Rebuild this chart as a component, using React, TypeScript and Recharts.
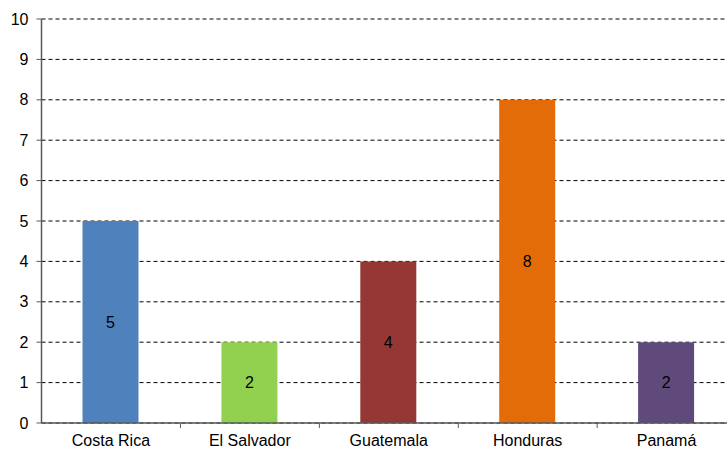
import React from "react";
import { BarChart, Bar, XAxis, YAxis, CartesianGrid, Cell, LabelList } from "recharts";

const countries = ["Costa Rica", "El Salvador", "Guatemala", "Honduras", "Panamá"];
const values = [5, 2, 4, 8, 2];
const colors = ["#4F81BD", "#92D050", "#953735", "#E36C09", "#604A7B"];
const yTicks = [0, 1, 2, 3, 4, 5, 6, 7, 8, 9, 10];

const data = countries.map((c, i) => ({ name: c, value: values[i] }));

const FONT = "'Liberation Sans', Arial, sans-serif";

const CatTick = (props: any) => {
  const { x, y, payload, index, visibleTicksCount } = props;
  const half = 69.5;
  return (
    <g>
      {index < visibleTicksCount - 1 && (
        <line x1={x + half} x2={x + half} y1={y - 8} y2={y - 3} stroke="#595959" strokeWidth={1} />
      )}
      <text x={x} y={y + 15} textAnchor="middle" fontSize={16} fontFamily={FONT} fill="#000">
        {payload.value}
      </text>
    </g>
  );
};

export default function App() {
  return (
    <div style={{ position: "fixed", left: 0, top: 0, width: 727, height: 450, overflow: "hidden", background: "#fff" }}>
      <BarChart width={744} height={450} data={data} margin={{ top: 19, right: 8, left: 0, bottom: 0 }}>
        <CartesianGrid vertical={false} stroke="#000" strokeDasharray="4 3" />
        <XAxis
          dataKey="name"
          height={27}
          axisLine={{ stroke: "#595959", strokeWidth: 1.5 }}
          tickLine={false}
          tick={<CatTick />}
          interval={0}
        />
        <YAxis
          width={41.5}
          domain={[0, 10]}
          ticks={yTicks}
          interval={0}
          axisLine={{ stroke: "#595959", strokeWidth: 1.5 }}
          tickLine={{ stroke: "#595959" }}
          tickSize={5}
          tickMargin={8}
          tick={{ fontSize: 16, fontFamily: FONT, fill: "#000" }}
        />
        <Bar dataKey="value" barSize={56} isAnimationActive={false}>
          {data.map((d, i) => (
            <Cell key={d.name} fill={colors[i]} />
          ))}
          <LabelList dataKey="value" position="center" fontSize={16} fontFamily={FONT} fill="#000" />
        </Bar>
      </BarChart>
    </div>
  );
}
